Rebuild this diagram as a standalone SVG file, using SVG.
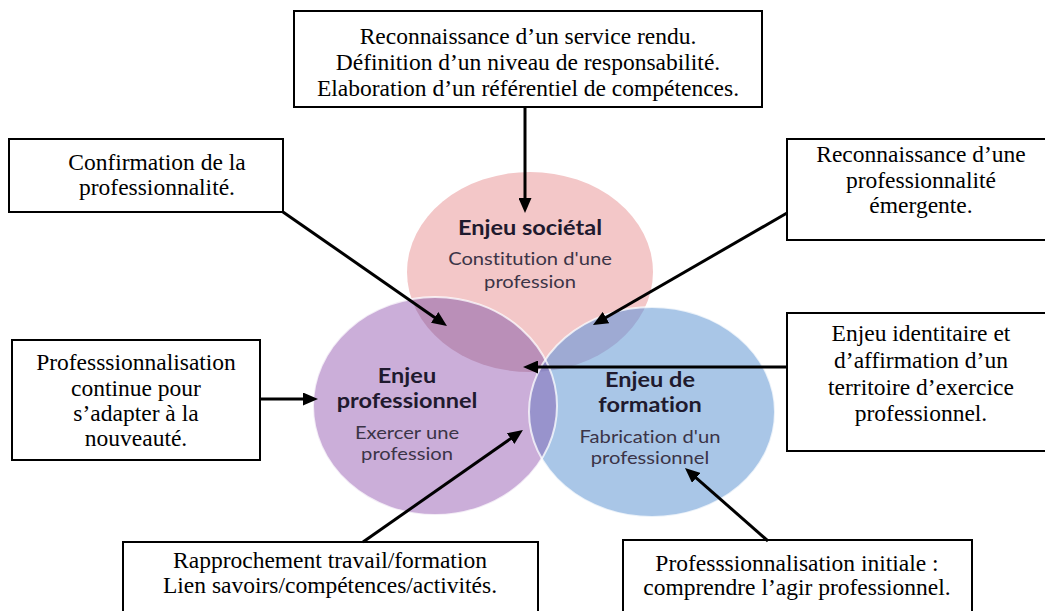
<svg xmlns="http://www.w3.org/2000/svg" width="1045" height="611" viewBox="0 0 1045 611">
<style>
.box{fill:#fff;stroke:#000;stroke-width:2}
.bt{font-family:"Liberation Serif","Times New Roman",serif;font-size:23.5px;fill:#000;text-anchor:middle}
.ct{font-family:Lato,"Open Sans",sans-serif;font-weight:bold;font-size:21px;fill:#1f1a2e;text-anchor:middle;font-variant-ligatures:none}
.cs{font-family:Lato,"Open Sans",sans-serif;font-size:18px;fill:#3b3447;text-anchor:middle;font-variant-ligatures:none}
.arr{stroke:#000;stroke-width:3;fill:none;marker-end:url(#ah)}
.rim{fill:none;stroke:#fff;stroke-width:2;stroke-opacity:0.75}
</style>
<defs>
<marker id="ah" markerUnits="userSpaceOnUse" markerWidth="15" markerHeight="13" refX="7" refY="6.5" orient="auto">
<path d="M0,0 L15,6.5 L0,13 z" fill="#000"/>
</marker>
<clipPath id="cPink"><ellipse cx="530" cy="272" rx="123" ry="100"/></clipPath>
<clipPath id="cPurple"><ellipse cx="435" cy="406" rx="122" ry="109"/></clipPath>
</defs>
<rect width="1045" height="611" fill="#fff"/>
<g id="venn">
<ellipse cx="530" cy="272" rx="123" ry="100" fill="#f3c7c8"/>
<ellipse cx="435" cy="406" rx="122" ry="109" fill="#cbaed9"/>
<ellipse cx="652" cy="412" rx="123" ry="105" fill="#a9c6e7"/>
<g clip-path="url(#cPink)"><ellipse cx="435" cy="406" rx="122" ry="109" fill="#ba8fb8"/></g>
<g clip-path="url(#cPink)"><ellipse cx="652" cy="412" rx="123" ry="105" fill="#9eaad3"/></g>
<g clip-path="url(#cPurple)"><ellipse cx="652" cy="412" rx="123" ry="105" fill="#9893cc"/></g>
<g clip-path="url(#cPurple)"><g clip-path="url(#cPink)"><ellipse cx="652" cy="412" rx="123" ry="105" fill="#8e88c3"/></g></g>
<ellipse class="rim" cx="435" cy="406" rx="122" ry="109"/>
<ellipse class="rim" cx="652" cy="412" rx="123" ry="105"/>
</g>
<g id="circle-societal" transform="translate(530 0) scale(1.12 1)">
<text class="ct" x="0" y="235">Enjeu sociétal</text>
<text class="cs" x="0" y="265">Constitution d'une</text>
<text class="cs" x="0" y="288">profession</text>
</g>
<g id="circle-professionnel" transform="translate(407 0) scale(1.12 1)">
<text class="ct" x="0" y="383">Enjeu</text>
<text class="ct" x="0" y="408">professionnel</text>
<text class="cs" x="0" y="439">Exercer une</text>
<text class="cs" x="0" y="460">profession</text>
</g>
<g id="circle-formation" transform="translate(650 0) scale(1.12 1)">
<text class="ct" x="0" y="387">Enjeu de</text>
<text class="ct" x="0" y="412">formation</text>
<text class="cs" x="0" y="443">Fabrication d'un</text>
<text class="cs" x="0" y="464">professionnel</text>
</g>
<g id="box-top">
<rect class="box" x="294" y="11" width="468" height="96"/>
<text class="bt" x="528" y="44">Reconnaissance d’un service rendu.</text>
<text class="bt" x="528" y="70">Définition d’un niveau de responsabilité.</text>
<text class="bt" x="528" y="96">Elaboration d’un référentiel de compétences.</text>
</g>
<g id="box-confirmation">
<rect class="box" x="9" y="139" width="274" height="73"/>
<text class="bt" x="157" y="170">Confirmation de la</text>
<text class="bt" x="157" y="195">professionnalité.</text>
</g>
<g id="box-emergente">
<rect class="box" x="787" y="139" width="268" height="101"/>
<text class="bt" x="921" y="162">Reconnaissance d’une</text>
<text class="bt" x="921" y="188">professionnalité</text>
<text class="bt" x="921" y="213">émergente.</text>
</g>
<g id="box-continue">
<rect class="box" x="12" y="340" width="248" height="120"/>
<text class="bt" x="136" y="370">Professsionnalisation</text>
<text class="bt" x="136" y="396">continue pour</text>
<text class="bt" x="136" y="421">s’adapter à la</text>
<text class="bt" x="136" y="446">nouveauté.</text>
</g>
<g id="box-identitaire">
<rect class="box" x="787" y="313" width="268" height="138"/>
<text class="bt" x="921" y="341">Enjeu identitaire et</text>
<text class="bt" x="921" y="368">d’affirmation d’un</text>
<text class="bt" x="921" y="395">territoire d’exercice</text>
<text class="bt" x="921" y="421">professionnel.</text>
</g>
<g id="box-rapprochement">
<rect class="box" x="123" y="542" width="415" height="80"/>
<text class="bt" x="330" y="568">Rapprochement travail/formation</text>
<text class="bt" x="330" y="593">Lien savoirs/compétences/activités.</text>
</g>
<g id="box-initiale">
<rect class="box" x="623" y="540" width="349" height="80"/>
<text class="bt" x="797" y="571">Professsionnalisation initiale :</text>
<text class="bt" x="797" y="595">comprendre l’agir professionnel.</text>
</g>
<g id="connectors">
<line class="arr" x1="525" y1="108" x2="525" y2="205"/>
<line class="arr" x1="283" y1="212" x2="440.4" y2="321.4"/>
<line class="arr" x1="787" y1="213" x2="599.9" y2="321"/>
<line class="arr" x1="787" y1="367" x2="531" y2="367"/>
<line class="arr" x1="260" y1="399" x2="310" y2="399"/>
<line class="arr" x1="363" y1="542" x2="516.4" y2="434.6"/>
<line class="arr" x1="768" y1="541" x2="691" y2="473.3"/>
</g>
</svg>
